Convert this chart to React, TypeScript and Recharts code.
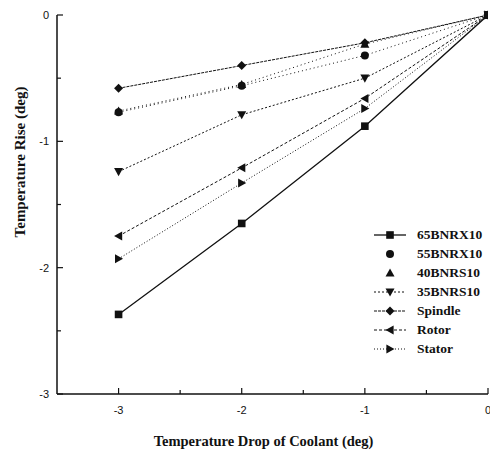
import React from 'react'
import { LineChart, Line, XAxis, YAxis, Legend, Label } from 'recharts'

// coolant temperature drop (x) and temperature rise per bearing / part
const drops = [-3, -2, -1, 0]
const bnrx65 = [-2.37, -1.65, -0.88, 0]
const bnrx55 = [-0.77, -0.56, -0.32, 0]
const bnrs40 = [-0.76, -0.55, -0.23, 0]
const bnrs35 = [-1.24, -0.79, -0.5, 0]
const spindle = [-0.58, -0.4, -0.22, 0]
const rotor = [-1.75, -1.21, -0.66, 0]
const stator = [-1.93, -1.33, -0.74, 0]

const xTicks = [-3, -2.5, -2, -1.5, -1, -0.5, 0]
const yTicks = [-3, -2.5, -2, -1.5, -1, -0.5, 0]

const INK = '#111'
const SERIF = '"Liberation Serif", "Times New Roman", serif'
const SANS = '"Liberation Sans", Arial, sans-serif'

type Shape = 'square' | 'circle' | 'up' | 'down' | 'diamond' | 'left' | 'right'

const series: Array<{ key: string; name: string; values: number[]; shape: Shape; dash?: string; width: number; legendLine: boolean }> = [
  { key: 'bnrx65', name: '65BNRX10', values: bnrx65, shape: 'square', width: 1.3, legendLine: true },
  { key: 'bnrx55', name: '55BNRX10', values: bnrx55, shape: 'circle', dash: '1 3', width: 1, legendLine: false },
  { key: 'bnrs40', name: '40BNRS10', values: bnrs40, shape: 'up', dash: '1 3', width: 1, legendLine: false },
  { key: 'bnrs35', name: '35BNRS10', values: bnrs35, shape: 'down', dash: '2 2', width: 1, legendLine: true },
  { key: 'spindle', name: 'Spindle', values: spindle, shape: 'diamond', dash: '3 1', width: 1, legendLine: true },
  { key: 'rotor', name: 'Rotor', values: rotor, shape: 'left', dash: '3 2', width: 1, legendLine: true },
  { key: 'stator', name: 'Stator', values: stator, shape: 'right', dash: '1 2', width: 1, legendLine: true },
]

const data = drops.map((x, i) => {
  const row: any = { x }
  series.forEach((s) => { row[s.key] = s.values[i] })
  return row
})

const Marker = ({ shape, cx, cy }: { shape: Shape; cx: number; cy: number }) => {
  const r = 4.5
  switch (shape) {
    case 'square':
      return <rect x={cx - 3.8} y={cy - 3.8} width={7.6} height={7.6} fill={INK} />
    case 'circle':
      return <circle cx={cx} cy={cy} r={4} fill={INK} />
    case 'up':
      return <polygon points={`${cx},${cy - r} ${cx + r},${cy + r * 0.8} ${cx - r},${cy + r * 0.8}`} fill={INK} />
    case 'down':
      return <polygon points={`${cx},${cy + r} ${cx + r},${cy - r * 0.8} ${cx - r},${cy - r * 0.8}`} fill={INK} />
    case 'diamond':
      return <polygon points={`${cx},${cy - r} ${cx + r},${cy} ${cx},${cy + r} ${cx - r},${cy}`} fill={INK} />
    case 'left':
      return <polygon points={`${cx - r},${cy} ${cx + r * 0.8},${cy - r} ${cx + r * 0.8},${cy + r}`} fill={INK} />
    case 'right':
      return <polygon points={`${cx + r},${cy} ${cx - r * 0.8},${cy - r} ${cx - r * 0.8},${cy + r}`} fill={INK} />
  }
  return null
}

const YTick = (p: any) => {
  const { x, y, payload } = p
  const major = Number.isInteger(payload.value)
  const ax = x + 8
  return (
    <g>
      <line x1={ax} x2={ax + (major ? 6 : 4)} y1={y} y2={y} stroke={INK} strokeWidth={1.2} />
      {major && (
        <text x={x} y={y} dy="0.35em" textAnchor="end" fontFamily={SANS} fontSize={11} fill={INK}>
          {payload.value}
        </text>
      )}
    </g>
  )
}

const XTick = (p: any) => {
  const { x, y, payload } = p
  const major = Number.isInteger(payload.value)
  const ay = y - 12
  return (
    <g>
      <line x1={x} x2={x} y1={ay} y2={ay - (major ? 6 : 4)} stroke={INK} strokeWidth={1.2} />
      {major && (
        <text x={x} y={y} dy="0.71em" textAnchor="middle" fontFamily={SANS} fontSize={11} fill={INK}>
          {payload.value}
        </text>
      )}
    </g>
  )
}

const LegendBox = () => (
  <div style={{ display: 'flex', flexDirection: 'column' }}>
    {series.map((s) => (
      <div key={s.key} style={{ display: 'flex', alignItems: 'center', height: 19 }}>
        <svg width={36} height={12} style={{ display: 'block' }}>
          {s.legendLine && (
            <line x1={2} x2={34} y1={6} y2={6} stroke={INK} strokeWidth={s.width} strokeDasharray={s.dash} />
          )}
          <Marker shape={s.shape} cx={18} cy={6} />
        </svg>
        <span style={{ marginLeft: 9, fontFamily: SERIF, fontWeight: 700, fontSize: 13.5, color: INK, lineHeight: 1 }}>
          {s.name}
        </span>
      </div>
    ))}
  </div>
)

export default function App() {
  return (
    <div style={{ position: 'absolute', left: 0, top: 0, background: '#fff' }}>
      <LineChart width={490} height={456} data={data} margin={{ top: 15, right: 2, left: 0, bottom: 12 }}>
        <XAxis
          type="number"
          dataKey="x"
          domain={[-3.5, 0]}
          ticks={xTicks}
          interval={0}
          height={50}
          tickSize={0}
          tickMargin={12}
          tickLine={false}
          tick={<XTick />}
          axisLine={{ stroke: INK, strokeWidth: 1.5 }}
          allowDataOverflow
        >
          <Label
            content={(props: any) => {
              const vb = props.viewBox
              return (
                <text x={vb.x + vb.width / 2 - 9} y={vb.y + 52} textAnchor="middle" fontFamily={SERIF} fontWeight={700} fontSize={14.5} fill={INK}>
                  Temperature Drop of Coolant (deg)
                </text>
              )
            }}
          />
        </XAxis>
        <YAxis
          type="number"
          domain={[-3, 0]}
          ticks={yTicks}
          interval={0}
          width={57}
          tickSize={0}
          tickMargin={8}
          tickLine={false}
          tick={<YTick />}
          axisLine={{ stroke: INK, strokeWidth: 1.5 }}
        >
          <Label
            content={(props: any) => {
              const vb = props.viewBox
              const cx = vb.x + 20
              const cy = vb.y + 147
              return (
                <text x={cx} y={cy} transform={`rotate(-90 ${cx} ${cy})`} textAnchor="middle" dominantBaseline="central" fontFamily={SERIF} fontWeight={700} fontSize={15} fill={INK}>
                  Temperature Rise (deg)
                </text>
              )
            }}
          />
        </YAxis>
        <Legend
          content={<LegendBox />}
          layout="vertical"
          align="center"
          verticalAlign="middle"
          wrapperStyle={{ left: 372, top: 225, width: 'auto', height: 'auto' }}
        />
        {series.map((s) => (
          <Line
            key={s.key}
            type="linear"
            dataKey={s.key}
            name={s.name}
            stroke={INK}
            strokeWidth={s.width}
            strokeDasharray={s.dash}
            isAnimationActive={false}
            dot={(p: any) => <Marker key={`${s.key}-${p.index}`} shape={s.shape} cx={p.cx} cy={p.cy} />}
            activeDot={false}
          />
        ))}
      </LineChart>
    </div>
  )
}
